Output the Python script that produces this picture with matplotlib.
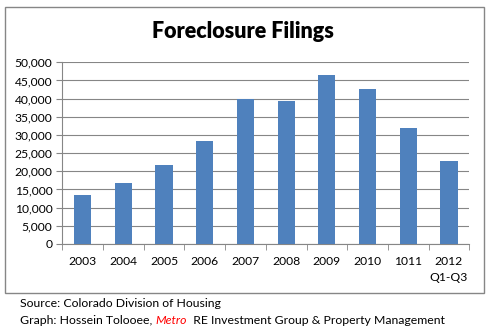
import matplotlib
matplotlib.use('Agg')
import matplotlib.pyplot as plt
from matplotlib.patches import Rectangle
import numpy as np

years = ['2003', '2004', '2005', '2006', '2007', '2008', '2009', '2010', '1011', '2012\nQ1-Q3']
filings = [13500, 16800, 21700, 28400, 40000, 39400, 46500, 42700, 31900, 22800]
yticks = list(range(0, 50001, 5000))

plt.rcParams['font.family'] = ['Lato', 'DejaVu Sans']

fig = plt.figure(figsize=(4.92, 3.33), dpi=100)
fig.patch.set_facecolor('white')

# outer chart frame like the excel chart area
fig.patches.append(Rectangle((0.0096, 0.120), 0.974, 0.860, transform=fig.transFigure,
                             fill=False, edgecolor='#868686', linewidth=1.0))

ax = fig.add_axes([0.1266, 0.2673, 0.8273, 0.5456])
x = np.arange(len(years))
ax.bar(x, filings, width=0.42, color='#4F81BD', zorder=3)

ax.set_xlim(-0.5, len(years) - 0.5)
ax.set_ylim(0, 50000)
ax.set_yticks(yticks)
ax.set_yticklabels(['{:,}'.format(v) for v in yticks], fontsize=8.7)
ax.set_xticks(x)
ax.set_xticklabels(years, fontsize=8.7, linespacing=1.55)
ax.tick_params(axis='x', length=0, pad=9)
ax.set_xticks(np.arange(-0.5, len(years)), minor=True)
ax.tick_params(axis='x', which='minor', length=4, color='#868686')
ax.tick_params(axis='y', length=4, color='#868686', pad=3)

ax.grid(axis='y', color='#868686', linewidth=0.8, zorder=0)
for s in ['top', 'right']:
    ax.spines[s].set_visible(False)
ax.spines['left'].set_color('#868686')
ax.spines['bottom'].set_color('#868686')

fig.text(0.494, 0.904, 'Foreclosure Filings', ha='center', va='center',
         fontsize=15.5, fontweight='heavy')

fig.text(0.041, 0.088, 'Source: Colorado Division of Housing', fontsize=8.8, va='center')

# credit line with red italic "Metro"
fig.canvas.draw()
r = fig.canvas.get_renderer()
t1 = fig.text(0.041, 0.037, 'Graph: Hossein Tolooee, ', fontsize=8.8, va='center')
bb = t1.get_window_extent(r)
x2 = bb.x1 / fig.bbox.width
t2 = fig.text(x2, 0.037, 'Metro', fontsize=8.8, va='center', color='red', style='italic')
bb2 = t2.get_window_extent(r)
x3 = bb2.x1 / fig.bbox.width
fig.text(x3, 0.037, '  RE Investment Group & Property Management', fontsize=8.8, va='center')

fig.savefig('out.png', dpi=100)
